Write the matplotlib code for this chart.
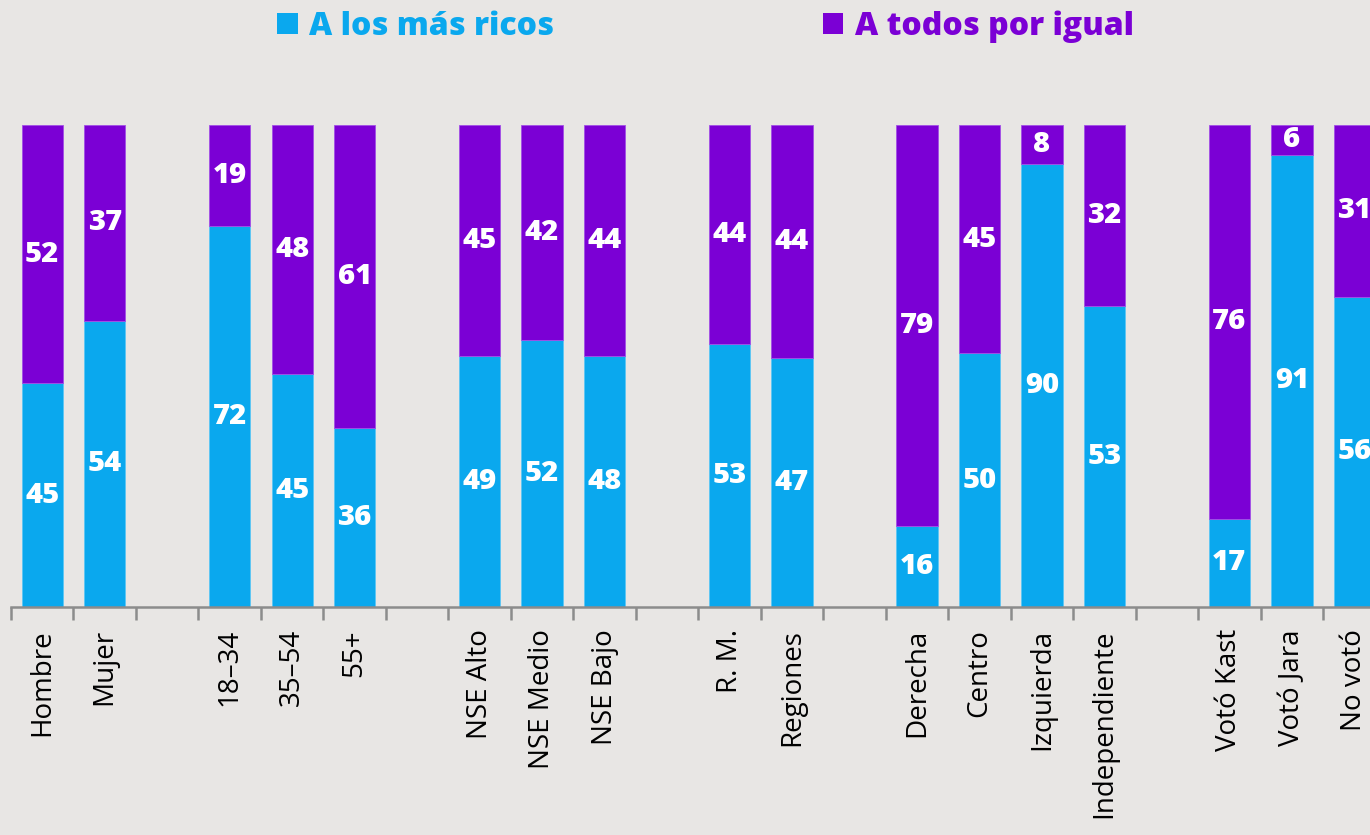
import matplotlib
matplotlib.use("Agg")
import matplotlib.pyplot as plt
from matplotlib.patches import Patch
import numpy as np

plt.rcParams['font.family'] = ['Open Sans', 'DejaVu Sans']

# categorias (None = hueco entre grupos)
categorias = ["Hombre", "Mujer", None,
              "18-34", "35-54", "55+", None,
              "NSE Alto", "NSE Medio", "NSE Bajo", None,
              "R. M.", "Regiones", None,
              "Derecha", "Centro", "Izquierda", "Independiente", None,
              "Votó Kast", "Votó Jara", "No votó"]
ricos = [45, 54, None, 72, 45, 36, None, 49, 52, 48, None, 53, 47, None,
         16, 50, 90, 53, None, 17, 91, 56]
igual = [52, 37, None, 19, 48, 61, None, 45, 42, 44, None, 44, 44, None,
         79, 45, 8, 32, None, 76, 6, 31]

azul = "#0AA8EE"
morado = "#7B00D5"
fondo = "#E8E6E4"

fig = plt.figure(figsize=(13.7, 8.35), dpi=100, facecolor=fondo)
ax = fig.add_axes([11 / 1370, 228 / 835, 1 - 11 / 1370, 482 / 835])
ax.set_facecolor(fondo)

for i, (c, r, g) in enumerate(zip(categorias, ricos, igual)):
    if c is None:
        continue
    tot = r + g
    pr, pg = r / tot, g / tot
    ax.bar(i, pr, width=0.66, color=azul, edgecolor="#5CC6F4", linewidth=0.6)
    ax.bar(i, pg, bottom=pr, width=0.66, color=morado, edgecolor="#A24FE6", linewidth=0.6)
    ax.text(i, pr / 2, str(r), ha="center", va="center", color="white",
            fontsize=21, fontweight=800)
    ax.text(i, pr + pg / 2, str(g), ha="center", va="center", color="white",
            fontsize=21, fontweight=800)

pos = [i for i, c in enumerate(categorias) if c is not None]
ax.set_xticks(pos)
ax.set_xticklabels([categorias[i].replace("-", "–") for i in pos], rotation=90,
                   fontsize=20, color="black")
ax.tick_params(axis="x", which="major", length=0, pad=16)
ax.set_xticks(np.arange(-0.5, 22, 1), minor=True)
ax.tick_params(axis="x", which="minor", length=9, width=1.8, color="#8C8C8C")
ax.set_yticks([])
ax.set_xlim(-0.5, 21.25)
ax.set_ylim(0, 1)
for s in ["top", "right", "left"]:
    ax.spines[s].set_visible(False)
ax.spines["bottom"].set_color("#8C8C8C")
ax.spines["bottom"].set_linewidth(1.8)

handles = [Patch(facecolor=azul, label="A los más ricos"),
           Patch(facecolor=morado, label="A todos por igual")]
leg = fig.legend(handles=handles, loc="center", bbox_to_anchor=(0.515, 0.968),
                 ncol=2, frameon=False, handlelength=0.65,
                 handleheight=0.65, handletextpad=0.35, columnspacing=8.4,
                 prop={"weight": 800, "size": 23})
for t, col in zip(leg.get_texts(), [azul, morado]):
    t.set_color(col)

fig.savefig("out.png", dpi=100, facecolor=fondo)
